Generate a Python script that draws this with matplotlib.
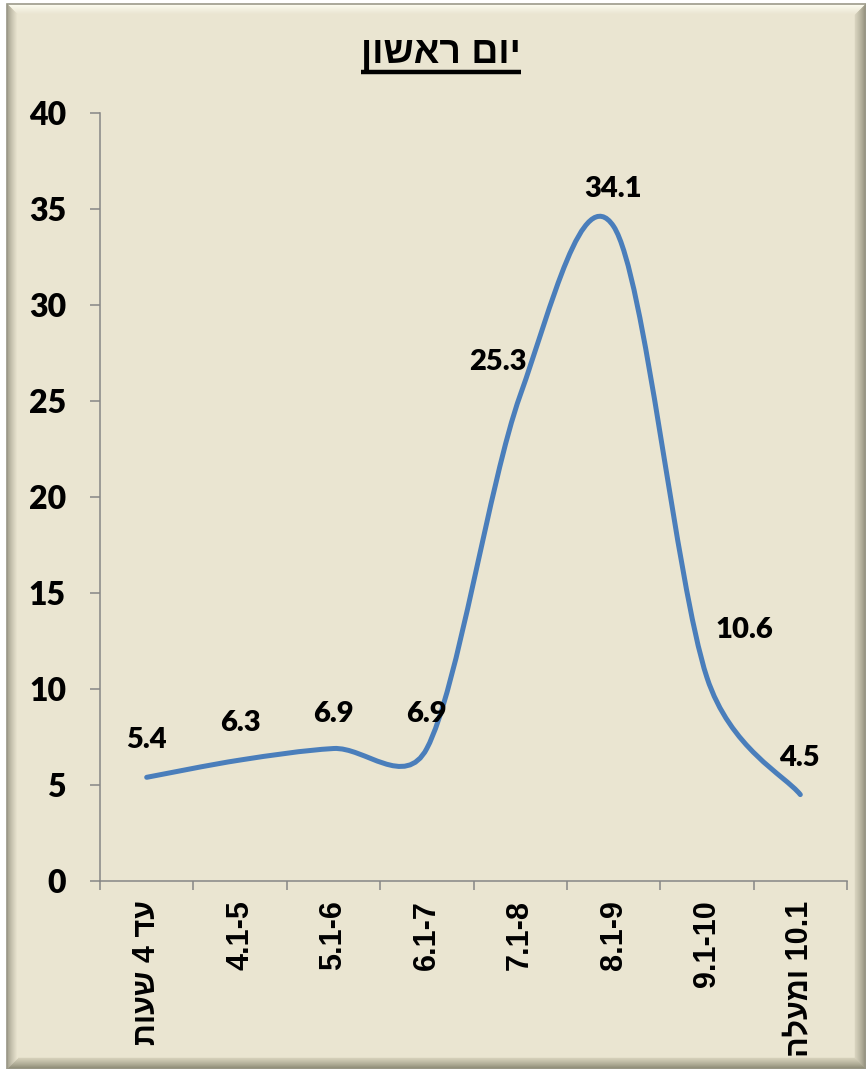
import numpy as np
import matplotlib.pyplot as plt
from matplotlib.path import Path
from matplotlib.patches import PathPatch, Polygon
from matplotlib.colors import to_rgb

# data (Hebrew strings written in visual order, matplotlib has no bidi)
title_he = "ןושאר םוי"
categories = ["תועש 4 דע", "4.1-5", "5.1-6", "6.1-7", "7.1-8", "8.1-9", "9.1-10", "הלעמו 10.1"]
values = [5.4, 6.3, 6.9, 6.9, 25.3, 34.1, 10.6, 4.5]
value_labels = ["5.4", "6.3", "6.9", "6.9", "25.3", "34.1", "10.6", "4.5"]
y_ticks = [0, 5, 10, 15, 20, 25, 30, 35, 40]

# label offsets in pixels (x, y)
label_offsets = [(0, 37), (0, 37), (0, 35), (0, 35), (-22, 33), (0, 37), (37, 47), (-1, 37)]

W, H = 866, 1069
beige = "#EAE5D1"
blue = "#4A7EBB"
grey = "#868686"
num_font = ["Lato", "DejaVu Sans"]
heb_font = ["Liberation Sans", "DejaVu Sans"]

fig = plt.figure(figsize=(W / 100, H / 100), dpi=100)
fig.patch.set_facecolor("white")

# background frame with bevel
bg = fig.add_axes([0, 0, 1, 1])
bg.set_xlim(0, W)
bg.set_ylim(H, 0)
bg.axis("off")

x0, y0, x1, y1 = 7, 4, 866, 1069
bw = 11
bg.add_patch(Polygon([(x0, y0), (x1, y0), (x1, y1), (x0, y1)], closed=True,
                     facecolor=beige, edgecolor="none"))


def mix(c_a, c_b, t):
    a, b = np.array(to_rgb(c_a)), np.array(to_rgb(c_b))
    return tuple(a + (b - a) * t)


sides = {
    "top": ("#FFFFF4", beige),
    "left": ("#A09D8A", beige),
    "right": ("#8E8B79", "#D6D1BC"),
    "bottom": ("#86846F", "#D3CEB8"),
}
for k in range(bw):
    t = k / (bw - 1)
    a0, b0 = k, k + 1
    ox0, oy0, ox1, oy1 = x0 + a0, y0 + a0, x1 - a0, y1 - a0
    ix0, iy0, ix1, iy1 = x0 + b0, y0 + b0, x1 - b0, y1 - b0
    polys = {
        "top": [(ox0, oy0), (ox1, oy0), (ix1, iy0), (ix0, iy0)],
        "bottom": [(ox0, oy1), (ox1, oy1), (ix1, iy1), (ix0, iy1)],
        "left": [(ox0, oy0), (ix0, iy0), (ix0, iy1), (ox0, oy1)],
        "right": [(ox1, oy0), (ix1, iy0), (ix1, iy1), (ox1, oy1)],
    }
    for side, poly in polys.items():
        c = mix(sides[side][0], sides[side][1], t ** 0.8)
        bg.add_patch(Polygon(poly, closed=True, facecolor=c, edgecolor=c, lw=0.3))
bg.add_patch(Polygon([(x0, y0), (x1, y0), (x1, y1), (x0, y1)], closed=True,
                     facecolor="none", edgecolor="#9C9A8A", lw=1.2))

# main axes
ax = fig.add_axes([100 / W, 1 - 881 / H, 747 / W, 768 / H])
ax.set_facecolor("none")

n = len(values)
xs = np.arange(n)
ax.set_xlim(-0.5, n - 0.5)
ax.set_ylim(0, 40)

# smoothed line, control points worked out in screen space
pts = np.column_stack([xs, values]).astype(float)
pix = ax.transData.transform(pts)
ext = np.vstack([pix[0], pix, pix[-1]])
verts = [pix[0]]
codes = [Path.MOVETO]
for i in range(n - 1):
    p0, p1, p2, p3 = ext[i], ext[i + 1], ext[i + 2], ext[i + 3]
    d12 = np.hypot(*(p2 - p1))
    d02 = np.hypot(*(p2 - p0))
    d13 = np.hypot(*(p3 - p1))
    f1 = 1 / 6 if d02 / 6 < d12 / 2 else d12 / (2 * d02)
    f2 = 1 / 6 if d13 / 6 < d12 / 2 else d12 / (2 * d13)
    verts += [p1 + (p2 - p0) * f1, p2 - (p3 - p1) * f2, p2]
    codes += [Path.CURVE4] * 3
verts = ax.transData.inverted().transform(np.array(verts))
ax.add_patch(PathPatch(Path(verts, codes), facecolor="none", edgecolor=blue,
                       lw=3.6, capstyle="round", joinstyle="round", zorder=3))

for xi, yi, lab, off in zip(xs, values, value_labels, label_offsets):
    ax.annotate(lab, (xi, yi), xytext=off, textcoords="offset pixels",
                ha="center", va="center", fontsize=21, fontweight="heavy",
                family=num_font, color="black", zorder=4)

ax.set_yticks(y_ticks)
ax.set_yticklabels([str(v) for v in y_ticks], fontsize=23, fontweight="heavy", family=num_font)
ax.set_xticks(np.arange(-0.5, n, 1))
ax.set_xticklabels([])
ax.set_xticks(xs, categories, minor=True)
for lab in ax.get_xticklabels(minor=True):
    lab.set_rotation(90)
    lab.set_fontsize(22)
    lab.set_fontweight("bold")
    lab.set_family(heb_font)
    lab.set_va("top")
    lab.set_ha("center")

ax.tick_params(axis="y", which="major", direction="out", length=7.5, width=1.1,
               color=grey, pad=17)
ax.tick_params(axis="x", which="major", direction="out", length=6.5, width=1.1, color=grey)
ax.tick_params(axis="x", which="minor", length=0, pad=14)

ax.spines["top"].set_visible(False)
ax.spines["right"].set_visible(False)
ax.spines["left"].set_color(grey)
ax.spines["bottom"].set_color(grey)
ax.spines["left"].set_linewidth(1.1)
ax.spines["bottom"].set_linewidth(1.1)

# title with underline
t = fig.text(441 / W, 1 - 53 / H, title_he, ha="center", va="center",
             fontsize=27, fontweight="bold", family=heb_font)
fig.canvas.draw()
bb = t.get_window_extent()
uy = H - bb.y0 + 1
bg.plot([bb.x0, bb.x1], [uy, uy], color="black", lw=3.2, solid_capstyle="butt")

fig.savefig("out.png", dpi=100, facecolor=fig.get_facecolor())
